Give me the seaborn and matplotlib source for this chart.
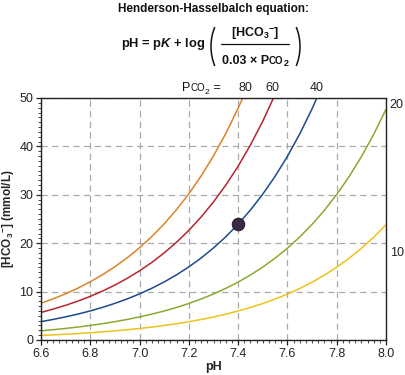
import matplotlib
matplotlib.use("Agg")
import matplotlib.pyplot as plt
from matplotlib.patches import Arc
from matplotlib.lines import Line2D
from matplotlib.transforms import IdentityTransform
from matplotlib.ticker import MultipleLocator
import pandas as pd
import seaborn as sns

# ======================================================
# DATOS
# ======================================================

ph = [6.60, 6.65, 6.70, 6.75, 6.80, 6.85, 6.90, 6.95, 7.00, 7.05,
      7.10, 7.15, 7.20, 7.25, 7.30, 7.35, 7.40, 7.45, 7.50, 7.55,
      7.60, 7.65, 7.70, 7.75, 7.80, 7.85, 7.90, 7.95, 8.00]

hco3_p80 = [7.59, 8.52, 9.55, 10.72, 12.03, 13.50, 15.14, 16.99, 19.06, 21.39,
            24.00, 26.93, 30.21, 33.90, 38.04, 42.68, 47.89, 53.73]
hco3_p60 = [5.69, 6.39, 7.17, 8.04, 9.02, 10.12, 11.36, 12.74, 14.30, 16.04,
            18.00, 20.20, 22.66, 25.43, 28.53, 32.01, 35.92, 40.30, 45.21, 50.73]
hco3_p40 = [3.79, 4.26, 4.78, 5.36, 6.01, 6.75, 7.57, 8.49, 9.53, 10.70,
            12.00, 13.46, 15.11, 16.95, 19.02, 21.34, 23.94, 26.86, 30.14, 33.82,
            37.95, 42.58, 47.77, 53.60]
hco3_p20 = [1.90, 2.13, 2.39, 2.68, 3.01, 3.37, 3.79, 4.25, 4.77, 5.35,
            6.00, 6.73, 7.55, 8.48, 9.51, 10.67, 11.97, 13.43, 15.07, 16.91,
            18.97, 21.29, 23.89, 26.80, 30.07, 33.74, 37.86, 42.48, 47.66]
hco3_p10 = [0.95, 1.06, 1.19, 1.34, 1.50, 1.69, 1.89, 2.12, 2.38, 2.67,
            3.00, 3.37, 3.78, 4.24, 4.75, 5.33, 5.99, 6.72, 7.54, 8.46,
            9.49, 10.64, 11.94, 13.40, 15.04, 16.87, 18.93, 21.24, 23.83]

pco2_top = ["80", "60", "40"]
pco2_top_ph = [7.43, 7.54, 7.72]
pco2_right = ["20", "10"]
pco2_right_y = [48.5, 18.0]

normal_ph = [7.4]
normal_hco3 = [24.0]

colores = {"80": "#d98327", "60": "#b3262f", "40": "#1c4a8c",
           "20": "#8aa92f", "10": "#efc21b"}

# ======================================================
# ESTILO
# ======================================================

sns.set_style("white")
plt.rcParams["font.family"] = ["Liberation Sans", "DejaVu Sans"]
plt.rcParams["mathtext.fontset"] = "custom"
plt.rcParams["mathtext.rm"] = "Liberation Sans:bold"
plt.rcParams["mathtext.it"] = "Liberation Sans:italic:bold"
plt.rcParams["mathtext.bf"] = "Liberation Sans:bold"

W, H = 405, 375
fig = plt.figure(figsize=(W / 100, H / 100), dpi=100)
ax = fig.add_axes([41 / W, 1 - 340 / H, 345 / W, 242 / H])

# datos en formato largo
curvas = {"80": hco3_p80, "60": hco3_p60, "40": hco3_p40,
          "20": hco3_p20, "10": hco3_p10}
partes = []
for p, vals in curvas.items():
    partes.append(pd.DataFrame({"pH": ph[:len(vals)], "HCO3": vals, "PCO2": p}))
df = pd.concat(partes, ignore_index=True)

sns.lineplot(data=df, x="pH", y="HCO3", hue="PCO2", palette=colores,
             legend=False, linewidth=1.1, ax=ax, sort=True)
sns.scatterplot(x=normal_ph, y=normal_hco3, s=80, color="#3b2843",
                edgecolor="#2a1c30", linewidth=0.8, zorder=5, ax=ax)

ax.set_xlim(6.6, 8.0)
ax.set_ylim(0, 50)
ax.xaxis.set_major_locator(MultipleLocator(0.2))
ax.xaxis.set_minor_locator(MultipleLocator(0.025))
ax.yaxis.set_major_locator(MultipleLocator(10))
ax.yaxis.set_minor_locator(MultipleLocator(1))
ax.set_xticklabels([f"{v:.1f}" for v in ax.get_xticks()])

ax.grid(True, which="major", color="#aaaaaa", linestyle=(0, (5, 3.5)), linewidth=0.9)
ax.set_axisbelow(True)
for s in ax.spines.values():
    s.set_color("#222222")
    s.set_linewidth(1.0)

ax.tick_params(axis="both", which="major", direction="out", length=3.5, width=0.9,
               labelsize=9, colors="#222222", left=True, bottom=True, pad=2)
ax.tick_params(axis="both", which="minor", direction="out", length=2, width=0.7,
               left=True, bottom=True, colors="#444444")

ax.set_xlabel("pH", fontsize=9, fontweight="bold")
ax.xaxis.set_label_coords(0.5, -0.085)
ax.set_ylabel(r"[HCO$_3$$^{-}$] (mmol/L)", fontsize=8.5, fontweight="bold")
ax.yaxis.set_label_coords(-0.072, 0.5)

# etiquetas de PCO2
for lab, x in zip(pco2_top, pco2_top_ph):
    ax.text(x, 51.5, lab, ha="center", va="baseline", fontsize=9,
            color="#222222", clip_on=False)
for lab, y in zip(pco2_right, pco2_right_y):
    ax.text(8.015, y, lab, ha="left", va="center", fontsize=9,
            color="#222222", clip_on=False)

# ======================================================
# TEXTO EN PIEZAS (coordenadas en pixeles)
# ======================================================

renderer = fig.canvas.get_renderer()


def piezas(lista, x0, y_base, ha="center"):
    objs = []
    x = 0
    for s, size, weight, dy in lista:
        t = fig.text(0, 0, s, fontsize=size, fontweight=weight, va="baseline",
                     ha="left", color="#111111", transform=IdentityTransform())
        w = t.get_window_extent(renderer).width
        objs.append((t, x, dy))
        x += w
    inicio = x0 - x / 2 if ha == "center" else x0
    for t, xo, dy in objs:
        t.set_position((inicio + xo, H - (y_base + dy)))


piezas([("P", 9, "normal", 0), ("CO", 7, "normal", 0), ("2", 6, "normal", 2.5),
        (" =", 9, "normal", 0)], 182, 91, ha="left")

fig.text(213 / W, 1 - 9 / H, "Henderson-Hasselbalch equation:", ha="center",
         va="center", fontsize=8.5, fontweight="bold", color="#111111")

piezas([(r"pH = p$\mathit{K}$ + log", 9.3, "bold", 0)], 121, 47.5, ha="left")
piezas([(r"[HCO$_3$$^{-}$]", 9, "bold", 0)], 255, 37)
piezas([("0.03 \u00d7 P", 9, "bold", 0), ("CO", 7, "bold", 0), ("2", 6.5, "bold", 2.5)],
       255, 64)

fig.add_artist(Line2D([221, 289], [H - 43.5, H - 43.5], color="#111111",
                      linewidth=0.9, transform=IdentityTransform()))
fig.add_artist(Arc((238, H - 46.5), 54, 76, theta1=140, theta2=220,
                   color="#111111", linewidth=1.1, transform=IdentityTransform()))
fig.add_artist(Arc((273, H - 46.5), 54, 76, theta1=-40, theta2=40,
                   color="#111111", linewidth=1.1, transform=IdentityTransform()))

fig.savefig("out.png", dpi=100)
plt.close(fig)
